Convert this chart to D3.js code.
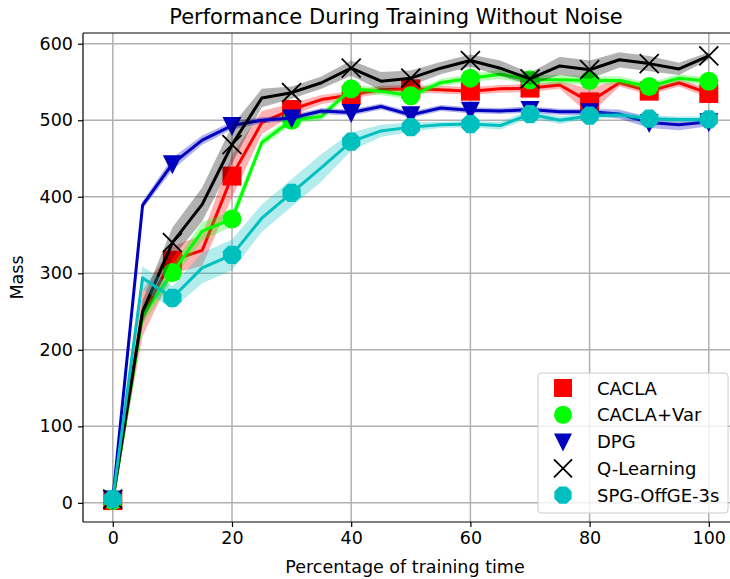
<!DOCTYPE html>
<html>
<head>
<meta charset="utf-8">
<script src="https://cdn.jsdelivr.net/npm/d3@7"></script>
<style>
  body { margin: 0; background: #fff; }
  svg { display: block; font-family: "DejaVu Sans", sans-serif; }
</style>
</head>
<body>
<div id="chart"></div>
<script>
// training progress (%), sampled every 5
const xs = [0, 5, 10, 15, 20, 25, 30, 35, 40, 45, 50, 55, 60, 65, 70, 75, 80, 85, 90, 95, 100];

const caclaMean = [3, 248, 317, 330, 427, 497, 514, 527, 533, 540, 541, 540, 538, 541, 542, 546, 524, 549, 538, 549, 535];
const caclaStd  = [3, 30, 18, 20, 28, 15, 8, 6, 5, 5, 5, 5, 5, 5, 5, 5, 17, 5, 5, 5, 6];

const varMean = [3, 245, 301, 355, 371, 471, 500, 505, 541, 538, 532, 549, 555, 560, 553, 553, 552, 552, 544, 555, 551];
const varStd  = [3, 12, 10, 12, 10, 6, 5, 5, 5, 5, 5, 5, 5, 6, 6, 6, 5, 5, 5, 5, 5];

const dpgMean = [5, 389, 443, 474, 493, 500, 503, 512, 510, 518, 507, 516, 513, 512, 514, 511, 511, 508, 497, 494, 498];
const dpgStd  = [3, 5, 8, 6, 5, 4, 4, 4, 4, 4, 4, 4, 4, 4, 4, 4, 4, 6, 7, 7, 6];

const qMean = [5, 250, 340, 390, 468, 529, 536, 549, 568, 551, 555, 568, 578, 568, 554, 571, 566, 579, 574, 567, 584];
const qStd  = [3, 15, 20, 22, 25, 12, 8, 8, 10, 12, 10, 8, 8, 10, 8, 12, 12, 10, 10, 8, 5];

const spgMean = [5, 294, 268, 307, 324, 372, 405, 438, 472, 486, 491, 494, 495, 493, 508, 500, 506, 507, 502, 501, 501];
const spgStd  = [3, 15, 15, 20, 20, 18, 18, 18, 12, 8, 6, 4, 4, 5, 5, 5, 4, 4, 4, 4, 4];

const seriesNames = ["CACLA", "CACLA+Var", "DPG", "Q-Learning", "SPG-OffGE-3s"];
const seriesColors = ["#ff0000", "#00ff00", "#0000bf", "#000000", "#00bfbf"];
const seriesMarkers = ["square", "circle", "triangle", "x", "octagon"];
const seriesMeans = [caclaMean, varMean, dpgMean, qMean, spgMean];
const seriesStds = [caclaStd, varStd, dpgStd, qStd, spgStd];

const xTicks = [0, 20, 40, 60, 80, 100];
const yTicks = [0, 100, 200, 300, 400, 500, 600];

const W = 730, H = 579;
const margin = { top: 33, right: 0, bottom: 57, left: 83 };

const svg = d3.select("#chart").append("svg")
  .attr("width", W).attr("height", H);

// right spine falls outside the picture, as in the original
const x = d3.scaleLinear().domain([-5, 105]).range([margin.left, margin.left + 110 * 5.96]);
const y = d3.scaleLinear().domain([-25, 614]).range([H - margin.bottom, margin.top]);

const x0 = x.range()[0], x1 = x.range()[1];
const y0 = y.range()[0], y1 = y.range()[1];

// grid
svg.append("g").selectAll("line").data(xTicks).enter().append("line")
  .attr("x1", d => x(d)).attr("x2", d => x(d))
  .attr("y1", y0).attr("y2", y1)
  .attr("stroke", "#b0b0b0").attr("stroke-width", 1.5);
svg.append("g").selectAll("line").data(yTicks).enter().append("line")
  .attr("x1", x0).attr("x2", x1)
  .attr("y1", d => y(d)).attr("y2", d => y(d))
  .attr("stroke", "#b0b0b0").attr("stroke-width", 1.5);

function markerPath(type, s) {
  const h = s / 2;
  if (type === "square") return `M${-h},${-h}H${h}V${h}H${-h}Z`;
  if (type === "triangle") return `M${-h},${-h * 0.9}H${h}L0,${h * 1.1}Z`;
  if (type === "x") return `M${-h},${-h}L${h},${h}M${-h},${h}L${h},${-h}`;
  if (type === "octagon") {
    const pts = d3.range(8).map(i => {
      const a = Math.PI / 8 + i * Math.PI / 4;
      return [h * 1.04 * Math.cos(a), h * 1.04 * Math.sin(a)];
    });
    return "M" + pts.map(p => p.join(",")).join("L") + "Z";
  }
  return d3.symbol().type(d3.symbolCircle).size(Math.PI * h * h)();
}

function drawMarker(g, type, color, s) {
  const p = g.append("path").attr("d", markerPath(type, s));
  if (type === "x") p.attr("fill", "none").attr("stroke", color).attr("stroke-width", 1.8);
  else p.attr("fill", color);
}

const plot = svg.append("g");

seriesNames.forEach((name, k) => {
  const mean = seriesMeans[k], sd = seriesStds[k], color = seriesColors[k];
  const pts = xs.map((v, i) => ({ x: v, m: mean[i], s: sd[i] }));

  const area = d3.area()
    .x(d => x(d.x)).y0(d => y(d.m - d.s)).y1(d => y(d.m + d.s));
  plot.append("path").datum(pts)
    .attr("d", area).attr("fill", color).attr("fill-opacity", 0.3);

  const line = d3.line().x(d => x(d.x)).y(d => y(d.m));
  plot.append("path").datum(pts)
    .attr("d", line).attr("fill", "none")
    .attr("stroke", color).attr("stroke-width", 3).attr("stroke-linejoin", "round");

  pts.filter((d, i) => i % 2 === 0).forEach(d => {
    const g = plot.append("g").attr("transform", `translate(${x(d.x)},${y(d.m)})`);
    drawMarker(g, seriesMarkers[k], color, 19);
  });
});

// spines
svg.append("line").attr("x1", x0).attr("x2", x0).attr("y1", y0).attr("y2", y1)
  .attr("stroke", "#000").attr("stroke-width", 1.2);
svg.append("line").attr("x1", x0).attr("x2", x1).attr("y1", y0).attr("y2", y0)
  .attr("stroke", "#000").attr("stroke-width", 1.2);
svg.append("line").attr("x1", x0).attr("x2", x1).attr("y1", y1).attr("y2", y1)
  .attr("stroke", "#000").attr("stroke-width", 1.2);

// axes
const xAxis = svg.append("g").attr("transform", `translate(0,${y0})`)
  .call(d3.axisBottom(x).tickValues(xTicks).tickSize(5).tickPadding(5));
const yAxis = svg.append("g").attr("transform", `translate(${x0},0)`)
  .call(d3.axisLeft(y).tickValues(yTicks).tickSize(5).tickPadding(5));
[xAxis, yAxis].forEach(a => {
  a.select(".domain").remove();
  a.selectAll("line").attr("stroke", "#000").attr("stroke-width", 1.2);
  a.selectAll("text").attr("font-size", 17.5).attr("fill", "#000").attr("font-family", "DejaVu Sans");
});

svg.append("text")
  .attr("x", 405).attr("y", 573)
  .attr("text-anchor", "middle").attr("font-size", 17.5)
  .text("Percentage of training time");

svg.append("text")
  .attr("transform", `translate(23,${(y0 + y1) / 2}) rotate(-90)`)
  .attr("text-anchor", "middle").attr("font-size", 17.5)
  .text("Mass");

svg.append("text")
  .attr("x", 396).attr("y", 24)
  .attr("text-anchor", "middle").attr("font-size", 21)
  .text("Performance During Training Without Noise");

// legend
const lg = svg.append("g").attr("transform", "translate(538,373)");
lg.append("rect").attr("width", 190).attr("height", 140).attr("rx", 3)
  .attr("fill", "#fff").attr("fill-opacity", 0.8)
  .attr("stroke", "#cccccc").attr("stroke-width", 1);
seriesNames.forEach((name, k) => {
  const row = lg.append("g").attr("transform", `translate(25,${15 + k * 26.8})`);
  drawMarker(row, seriesMarkers[k], seriesColors[k], 18);
  row.append("text").attr("x", 34).attr("y", 6.5)
    .attr("font-size", 18).text(name);
});
</script>
</body>
</html>
